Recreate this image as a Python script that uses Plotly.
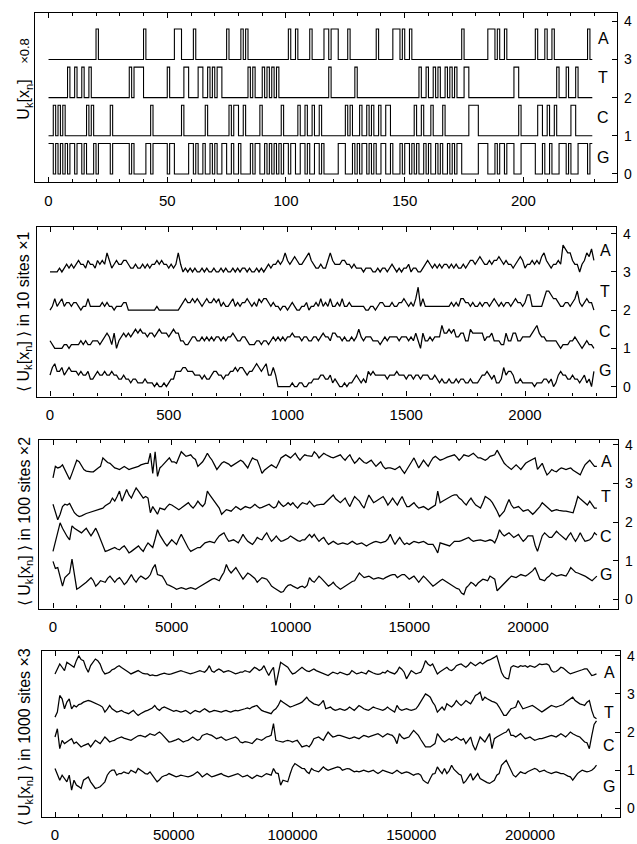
import plotly.graph_objects as go

# ---------------- data ----------------
# Panel 1: the nucleotide sequence (one base per site)
SEQ = ("GGCGCGCGTG" "GTGGTGCTCG" "AGGGGGCGGG" "GGGGTGTTTT" "AGGCGGGGGG"
       "TGGAAACTTG" "GAGTTGCTGT" "GTTGGACGCC" "GACATGTGGC" "TGTGTGTGCG"
       "GAGGACGGCG" "ACGGCGAATA" "AAGGGCACGT" "GCGGCGCGAC" "GGCCGAAAGA"
       "GGAGCGTCGT" "GCTGTGCTGT" "GTGGATTCCC" "CGGGGAAAGA" "GGAGGGTTCG"
       "GGGGGACCGA" "CGACTGGGTG" "CCTGGGGAG")
BASES = ["A", "T", "C", "G"]
OFFSETS = [3, 2, 1, 0]
SITE_SCALE = 0.8

# Panel 2: counts of each base in consecutive windows of 10 sites
A10 = [0,0,0,0,1,0,1,2,1,2, 1,2,3,2,2,1,3,2,2,1, 3,2,3,2,5,3,1,2,3,2, 2,3,3,2,1,1,2,1,1,2,
       1,2,1,2,2,3,2,3,2,2, 1,2,1,2,5,2,0,1,0,1, 0,1,0,0,1,0,1,0,0,1, 0,0,1,0,1,0,0,1,0,1,
       0,1,1,0,1,0,0,1,0,1, 0,1,2,1,2,2,3,2,3,5, 3,2,3,4,3,2,2,3,4,5, 3,2,1,1,2,1,1,3,5,3,
       2,2,2,3,3,2,2,1,2,1, 1,1,0,1,1,1,0,0,1,0, 1,1,0,1,2,1,0,1,0,1, 1,2,0,1,1,0,0,1,2,3,
       2,1,2,1,2,1,2,2,1,2, 1,2,1,1,2,1,2,3,3,2, 3,4,3,2,2,3,2,3,3,4, 3,2,3,2,2,1,2,3,4,3,
       1,2,2,3,2,3,2,4,5,3, 2,1,2,2,3,2,7,6,5,5, 3,2,2,0,2,3,5,4,6,3]
T10 = [0,1,3,1,2,3,1,2,2,1, 2,2,1,0,1,1,3,1,1,1, 1,1,2,1,2,1,1,0,1,1, 1,2,2,0,0,0,0,0,0,0,
       0,0,0,0,0,1,0,0,0,0, 0,0,0,0,0,1,2,3,2,2, 3,2,3,2,1,2,3,2,2,3, 2,3,1,2,1,1,2,3,1,2,
       1,2,2,3,2,1,2,1,3,2, 3,3,2,1,2,1,1,0,1,1, 0,1,2,1,0,0,1,1,2,0, 1,1,2,1,3,1,2,1,3,1,
       1,2,1,3,1,1,2,1,1,1, 1,1,1,0,0,1,1,0,1,2, 2,1,1,1,2,1,1,2,2,3, 2,1,2,1,3,6,1,3,1,1,
       1,1,1,1,1,1,1,1,1,2, 1,2,1,3,3,2,2,1,2,1, 1,2,1,2,2,1,2,3,2,1, 2,1,2,2,1,2,3,2,2,1,
       2,4,4,1,1,1,1,1,3,5, 5,4,3,3,2,1,1,2,2,1, 2,3,5,2,1,2,3,2,2,0]
C10 = [2,1,0,0,0,0,1,1,0,1, 1,1,1,2,1,2,1,1,2,2, 2,1,2,3,4,3,1,4,0,2, 3,4,3,4,3,4,5,4,5,4,
       4,3,4,4,3,4,5,4,4,4, 3,4,5,4,4,2,2,1,1,2, 3,3,2,2,3,2,3,2,3,2, 3,3,2,3,2,3,3,4,3,2,
       2,3,3,2,1,1,1,2,2,1, 2,2,1,2,3,2,3,2,3,2, 3,3,4,3,3,3,2,3,3,2, 2,3,3,2,3,4,3,3,2,4,
       4,3,3,2,3,2,2,3,2,3, 5,3,2,3,3,3,2,2,2,1, 2,3,2,3,3,3,3,2,3,3, 3,2,3,2,4,2,0,4,2,2,
       3,2,3,3,3,6,4,4,5,4, 5,3,3,4,4,2,2,5,4,4, 4,4,4,2,3,3,4,2,2,2, 1,1,4,2,2,4,4,2,2,3,
       3,3,3,4,5,6,4,3,3,2, 2,2,2,2,1,0,1,1,1,2, 2,3,2,1,0,1,2,1,1,0]
G10 = [3,5,6,4,4,5,3,4,5,4, 4,4,3,4,3,3,4,2,2,3, 4,3,3,4,3,3,4,3,3,2, 2,3,2,2,1,2,2,1,1,1,
       2,1,1,1,0,1,0,0,1,0, 1,2,2,4,4,4,5,5,4,4, 4,3,3,3,2,3,2,2,3,4, 4,3,3,2,3,3,4,4,5,4,
       5,5,4,3,4,4,5,6,5,4, 5,6,3,3,5,3,0,0,0,0, 0,0,1,0,0,1,1,0,0,1, 1,2,2,2,3,3,2,2,3,1,
       2,1,0,0,1,0,1,1,2,3, 2,1,2,1,4,3,4,3,3,3, 3,3,2,3,3,3,4,3,3,3, 2,3,3,2,3,3,2,3,3,3,
       2,2,3,2,1,2,1,1,2,1, 1,2,1,2,2,1,1,2,1,1, 1,2,3,3,4,3,2,3,1,1, 2,5,3,4,4,3,1,1,2,1,
       1,1,1,1,0,1,1,1,2,2, 1,2,0,1,3,4,3,3,2,2, 3,2,2,1,2,3,1,2,0,4]

# Panel 3: counts of each base in consecutive windows of 100 sites
A100 = [7,22,20,21,24,18,13,5,13,22, 30,28,23,18,16,15,15,15,18,20, 22,33,30,27,26,23,20,19,18,20,
        22,20,18,19,20,20,22,24,25,26, 26,39,13,41,9,20,23,26,30,33, 28,28,26,33,41,38,35,36,37,33,
        31,22,25,28,33,39,34,30,24,18, 22,26,28,27,25,22,24,26,28,30, 28,24,20,27,33,31,30,22,13,17,
        20,22,24,22,20,26,33,35,37,35, 33,36,39,34,30,34,37,36,35,35, 41,38,33,36,39,37,35,34,33,34,
        35,37,33,30,34,37,31,26,29,33, 30,27,26,28,30,26,22,25,28,22, 19,20,20,19,18,20,22,17,13,18,
        24,28,33,26,20,25,30,26,22,28, 33,35,32,30,31,33,34,35,36,37, 34,30,33,37,36,35,37,39,36,33,
        33,31,30,32,35,36,37,43,37,31, 26,23,20,18,21,24,21,18,22,26, 28,30,32,33,18,22,26,18,11,14,
        18,16,15,18,20,19,18,19,20,17, 15,13,11,18,24,27,30,26,22,22]
T100 = [23,14,3,10,20,23,22,24,18,12, 9,7,8,10,11,12,13,14,15,16, 17,18,21,23,25,31,27,33,40,27,
        35,42,35,31,38,44,40,36,31,33, 31,12,20,15,10,18,17,16,20,23, 22,20,18,16,18,20,22,25,21,18,
        22,27,23,20,24,40,35,31,27,23, 18,10,13,16,15,14,17,20,18,16, 18,20,19,18,20,23,20,18,19,20,
        21,23,20,18,20,27,23,20,22,25, 22,25,21,18,22,25,24,23,27,24, 20,22,23,23,23,26,29,32,35,30,
        27,25,28,31,25,20,27,33,30,27, 22,18,27,35,30,25,27,29,31,33, 28,22,26,31,26,22,28,33,26,20,
        20,23,25,21,18,19,20,18,16,18, 20,22,40,25,27,29,31,33,34,35, 35,31,29,25,22,27,31,26,22,20,
        18,25,33,31,29,25,20,14,7,10, 14,22,29,22,18,19,20,17,14,15, 16,13,10,13,16,20,25,22,20,17,
        14,15,16,15,14,14,14,13,12,12, 22,33,30,27,25,22,27,22,18,18]
C100 = [12,24,36,49,42,36,31,27,45,42, 40,38,36,39,42,37,32,37,42,35, 27,20,12,13,14,16,17,15,14,17,
        19,15,10,12,14,17,19,15,12,18, 23,20,17,28,40,33,27,23,19,23, 27,24,21,28,34,28,21,16,12,14,
        15,17,17,20,23,24,25,24,23,28, 32,34,36,30,25,26,27,25,23,28, 34,29,25,23,21,25,30,28,27,32,
        36,30,25,28,32,28,25,26,27,29, 32,30,27,26,25,27,27,30,34,30, 34,29,25,28,30,25,21,23,25,23,
        21,22,23,22,21,23,25,23,21,22, 23,21,19,21,23,24,25,24,23,24, 25,28,34,27,21,26,30,25,21,23,
        21,23,25,24,23,24,25,23,21,21, 21,16,10,23,22,21,20,19,22,25, 25,25,26,27,28,30,27,25,26,27,
        27,26,25,26,27,26,23,30,40,35, 32,34,36,33,30,32,34,29,25,28, 32,32,32,20,12,22,32,36,33,30,
        30,34,38,35,32,30,27,32,36,30, 25,30,36,30,25,26,27,30,36,33]
G100 = [49,40,41,30,17,28,31,34,52,30, 13,15,17,19,22,25,28,24,17,20, 24,23,22,27,30,26,22,26,28,24,
        19,22,28,32,26,22,27,30,28,26, 28,32,40,45,32,31,30,25,19,18, 17,15,13,14,15,14,13,14,15,14,
        13,15,17,19,20,22,24,26,27,26, 24,30,35,45,38,34,37,41,36,30, 26,30,34,32,30,27,22,25,28,27,
        26,22,17,15,13,11,9,10,15,18, 19,17,15,14,16,17,15,18,28,24, 22,26,30,27,24,20,17,19,22,18,
        15,13,15,17,19,22,23,24,29,34, 31,28,29,30,28,26,27,28,27,26, 28,30,31,32,32,28,30,32,32,29,
        26,28,30,26,22,26,30,27,24,20, 17,19,22,24,26,24,22,20,17,15, 14,13,8,6,15,18,22,20,17,21,
        24,26,25,24,30,28,26,11,14,17, 20,24,27,30,29,28,30,32,31,30, 32,34,37,41,33,26,25,24,28,30,
        34,32,30,31,32,31,30,35,41,38, 35,34,33,32,30,28,26,24,27,30]

# Panel 4: counts of each base in consecutive windows of 1000 sites
A1000 = [174,220,261,232,203,275,260,246,232,290, 333,300,290,230,189,246,280,304,290,260,
         203,174,180,189,210,218,235,246,230,218, 200,189,174,185,195,203,190,178,174,174,
         160,165,160,160,168,174,180,174,170,174, 182,189,195,203,195,189,182,174,180,189,
         195,203,195,189,210,246,200,189,205,218, 205,189,196,203,195,182,174,180,189,189,
         203,195,189,210,232,220,203,215,246,200, 160,200,232,73,189,275,261,250,232,200,
         174,180,195,210,232,215,200,195,210,218, 203,195,180,174,170,160,175,189,182,174,
         189,182,170,165,174,203,189,174,180,189, 182,174,203,189,182,174,170,174,189,182,
         203,189,182,174,195,232,215,189,131,170, 203,189,174,182,189,230,290,261,246,261,
         218,174,190,203,215,232,210,203,218,246, 255,261,246,232,250,275,260,246,261,275,
         261,275,290,296,304,318,333,260,189,150, 135,131,232,246,240,232,246,240,246,232,
         246,240,232,246,261,255,261,261,250,203, 189,195,210,232,225,203,189,174,180,189,
         195,203,210,218,218,190,160,165,174]
T1000 = [130,174,319,290,203,261,290,203,232,218, 240,246,261,268,275,270,261,255,246,232,
         218,174,200,232,203,190,174,180,189,175, 170,160,175,189,165,145,160,174,182,189,
         203,210,232,203,189,210,218,210,203,190, 180,189,180,174,180,189,175,160,175,189,
         180,174,190,203,189,174,180,189,185,180, 174,182,189,180,174,182,189,185,189,195,
         203,210,203,218,225,232,210,189,180,174, 170,160,189,203,232,275,260,246,232,218,
         225,232,240,250,261,280,304,275,261,246, 240,232,250,275,203,210,218,200,189,195,
         203,196,189,200,218,203,189,210,232,218, 203,196,189,203,218,210,203,195,189,200,
         218,200,189,174,232,200,189,196,203,195, 189,195,203,230,261,300,333,320,304,261,
         232,174,195,218,189,246,232,218,240,275, 250,232,250,275,260,246,280,319,330,348,
         275,304,290,275,268,261,250,218,180,145, 145,175,203,210,218,275,240,203,210,218,
         225,232,218,203,190,174,189,203,220,232, 225,218,225,232,240,261,275,290,304,275,
         261,246,240,232,260,275,189,130,116]
C1000 = [290,362,188,261,232,250,261,275,232,246, 225,203,215,225,232,203,232,261,246,232,
         261,290,270,246,255,261,275,285,290,280, 275,268,261,275,290,300,304,296,290,304,
         319,310,304,320,333,315,290,270,246,250, 261,265,275,260,246,255,261,275,290,275,
         261,270,304,312,319,310,304,290,275,282, 290,275,261,268,275,282,290,275,246,240,
         250,246,240,232,255,275,268,261,275,290, 296,304,406,261,255,250,246,255,261,255,
         246,255,261,232,203,210,217,203,232,275, 282,290,275,261,300,333,310,290,296,304,
         304,297,290,282,275,282,290,282,275,290, 304,297,290,297,304,312,319,305,290,305,
         319,311,304,280,232,319,290,275,282,290, 320,348,326,304,268,232,203,203,203,218,
         232,319,290,262,246,260,275,261,276,290, 275,261,275,232,261,290,217,174,232,290,
         268,246,282,319,188,275,290,304,312,325, 333,362,304,304,290,305,319,297,275,282,
         290,275,261,268,275,275,282,290,297,304, 297,290,304,319,305,290,311,333,318,304,
         297,290,268,246,240,188,300,400,430]
G1000 = [348,290,246,290,260,232,290,160,246,203, 190,174,246,260,275,232,200,174,180,189,
         210,232,290,319,333,333,290,304,304,319, 310,304,333,319,310,348,330,319,304,300,
         319,290,261,232,250,275,285,290,304,296, 285,275,282,290,285,282,275,282,290,305,
         319,300,275,290,304,290,275,282,290,297, 304,290,282,275,282,290,297,304,290,275,
         282,290,275,261,275,290,282,275,290,304, 297,290,348,310,304,203,246,240,232,300,
         360,391,377,362,350,348,320,304,348,333, 326,319,340,362,345,333,340,348,354,362,
         356,333,340,348,345,333,319,326,319,326, 333,326,319,326,333,318,304,318,333,326,
         319,312,304,318,333,318,304,312,319,312, 300,290,300,304,290,246,230,218,261,300,
         304,362,330,304,348,304,330,377,340,319, 300,290,218,240,275,304,246,275,304,261,
         250,232,225,218,232,246,290,304,377,400, 420,377,330,290,275,300,319,310,304,320,
         333,340,348,340,319,326,333,320,310,304, 312,319,312,304,304,290,282,275,246,275,
         304,320,333,326,319,324,333,350,377]

WINDOWS = [10, 100, 1000]
MAGNIFY = {10: 1, 100: 2, 1000: 3}
COUNTS = {10: [A10, T10, C10, G10],
          100: [A100, T100, C100, G100],
          1000: [A1000, T1000, C1000, G1000]}
TITLES = ["U<sub>k</sub>[x<sub>n</sub>]",
          "\u27e8 U<sub>k</sub>[x<sub>n</sub>] \u27e9 in 10 sites \u00d71",
          "\u27e8 U<sub>k</sub>[x<sub>n</sub>] \u27e9 in 100 sites \u00d72",
          "\u27e8 U<sub>k</sub>[x<sub>n</sub>] \u27e9 in 1000 sites \u00d73"]

# ---------------- layout geometry ----------------
W, H = 637, 844
FONT = "Liberation Sans, Arial, Helvetica, sans-serif"
XDOM = [[35/W, 617/W], [37.3/W, 616/W], [39.3/W, 618/W], [41.7/W, 620/W]]
YDOM = [[1-180/H, 1-10/H], [1-395/H, 1-225/H], [1-607.7/H, 1-438.3/H], [1-816.7/H, 1-650/H]]
XRANGE_UNITS = [[-5.7, 239.4], [-5.35, 238.3], [-5.77, 237.9], [-5.6, 237.9]]
YRANGE = [[-0.22, 4.22], [-0.26, 4.17], [-0.24, 4.13], [-0.22, 4.13]]
LABEL_X = [603/W, 605/W, 606/W, 609/W]
LABEL_Y = [[3.56, 2.52, 1.48, 0.44], [3.57, 2.48, 1.43, 0.43],
           [3.57, 2.67, 1.63, 0.65], [3.57, 2.52, 1.65, 0.57]]
TITLE_Y = [1-97/H, 1-310/H, 1-521/H, 1-737/H]
SCALES = [1, 10, 100, 1000]

fig = go.Figure()

# Panel 1: step traces of the indicator sequences
for b, off in zip(BASES, OFFSETS):
    ys = [off + SITE_SCALE * (1 if s == b else 0) for s in SEQ]
    ys.append(ys[-1])
    xs = list(range(len(SEQ) + 1))
    fig.add_trace(go.Scatter(x=xs, y=ys, mode="lines", xaxis="x", yaxis="y",
                             line=dict(color="black", width=1.1, shape="hv"),
                             showlegend=False, hoverinfo="skip"))

# Panels 2-4: window averages
for p, win in enumerate(WINDOWS, start=2):
    for vals, off in zip(COUNTS[win], OFFSETS):
        xs = [i * win for i in range(len(vals))]
        ys = [off + MAGNIFY[win] * c / win for c in vals]
        fig.add_trace(go.Scatter(x=xs, y=ys, mode="lines", xaxis=f"x{p}", yaxis=f"y{p}",
                                 line=dict(color="black", width=1.25),
                                 showlegend=False, hoverinfo="skip"))

layout = {}
annotations = []
for k in range(4):
    sfx = "" if k == 0 else str(k + 1)
    sc = SCALES[k]
    layout[f"xaxis{sfx}"] = dict(
        domain=XDOM[k], range=[XRANGE_UNITS[k][0] * sc, XRANGE_UNITS[k][1] * sc],
        anchor=f"y{sfx}", tick0=0, dtick=50 * sc, tickformat="d",
        ticks="inside", ticklen=5, tickcolor="black", tickwidth=1,
        minor=dict(dtick=10 * sc, tick0=0, ticks="inside", ticklen=3, tickcolor="black", tickwidth=1),
        showline=True, linecolor="black", linewidth=1.3, mirror="allticks",
        showgrid=False, zeroline=False, ticklabelstandoff=4,
        tickfont=dict(family=FONT, size=15, color="black"))
    layout[f"yaxis{sfx}"] = dict(
        domain=YDOM[k], range=YRANGE[k], anchor=f"x{sfx}", side="right",
        tickvals=[0, 1, 2, 3, 4], ticks="inside", ticklen=5, tickcolor="black",
        showline=True, linecolor="black", linewidth=1.3, mirror=True,
        showgrid=False, zeroline=False, ticklabelstandoff=3,
        tickfont=dict(family=FONT, size=14, color="black"))
    for b, ly in zip(BASES, LABEL_Y[k]):
        annotations.append(dict(text=b, x=LABEL_X[k], y=ly, xref="paper", yref=f"y{sfx}",
                                showarrow=False, xanchor="center", yanchor="middle",
                                font=dict(family=FONT, size=16, color="black")))
    annotations.append(dict(text=TITLES[k], x=25/W, y=TITLE_Y[k], xref="paper", yref="paper",
                            showarrow=False, textangle=-90, xanchor="center", yanchor="middle",
                            font=dict(family=FONT, size=16, color="black")))

annotations.append(dict(text="\u00d70.8", x=25/W, y=1-48/H, xref="paper", yref="paper",
                        showarrow=False, textangle=-90, xanchor="center", yanchor="middle",
                        font=dict(family=FONT, size=13, color="black")))

fig.update_layout(width=W, height=H, autosize=False,
                  margin=dict(l=0, r=0, t=0, b=0, pad=0),
                  paper_bgcolor="white", plot_bgcolor="white",
                  font=dict(family=FONT, color="black"),
                  annotations=annotations, **layout)

fig.write_html("out.html", config={"displayModeBar": False},
               post_script="document.body.style.margin='0';document.body.style.overflow='hidden';")
